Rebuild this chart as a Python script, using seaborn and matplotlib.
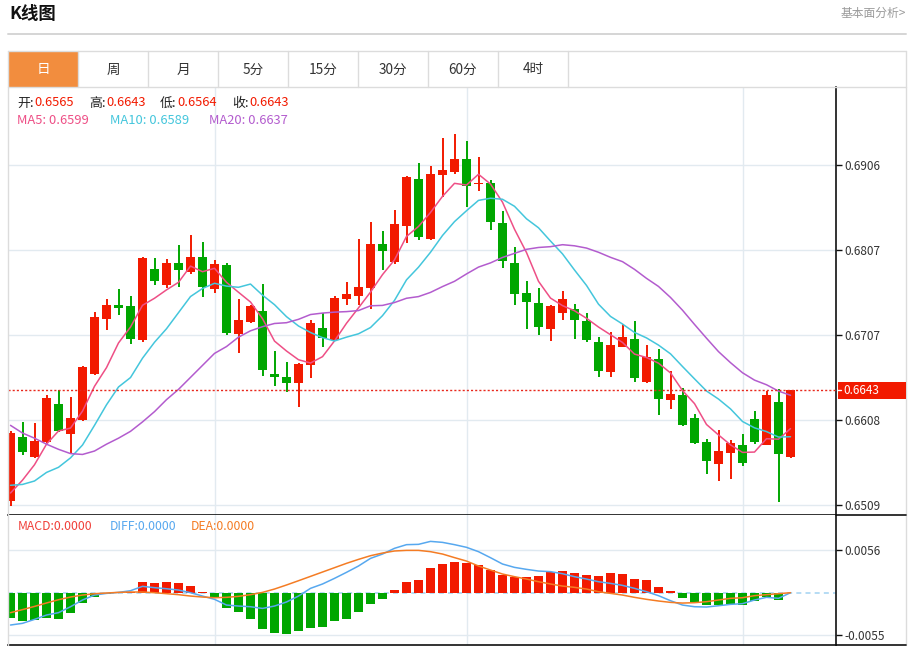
import numpy as np
import pandas as pd
import matplotlib
matplotlib.use("Agg")
import matplotlib.pyplot as plt
from matplotlib.patches import Rectangle
from matplotlib.lines import Line2D
import seaborn as sns

# ---------------- data ----------------
opens = [0.6514, 0.6588, 0.6565, 0.6582, 0.6627, 0.6592, 0.6608, 0.6662, 0.6726, 0.6743,
         0.6741, 0.6702, 0.6785, 0.6766, 0.6792, 0.6781, 0.6798, 0.6761, 0.6789, 0.6709,
         0.6723, 0.6736, 0.6662, 0.6659, 0.6651, 0.6673, 0.6716, 0.6702, 0.6750, 0.6753,
         0.6762, 0.6814, 0.6793, 0.6835, 0.6890, 0.6820, 0.6894, 0.6898, 0.6913, 0.6884,
         0.6885, 0.6838, 0.6792, 0.6756, 0.6745, 0.6715, 0.6733, 0.6738, 0.6724, 0.6699,
         0.6664, 0.6694, 0.6703, 0.6653, 0.6680, 0.6632, 0.6638, 0.6610, 0.6582, 0.6557,
         0.6570, 0.6579, 0.6609, 0.6579, 0.6629, 0.6565]
highs = [0.6595, 0.6606, 0.6605, 0.6638, 0.6643, 0.6635, 0.6671, 0.6734, 0.6750, 0.6761,
         0.6753, 0.6799, 0.6797, 0.6796, 0.6813, 0.6824, 0.6816, 0.6795, 0.6792, 0.6750,
         0.6743, 0.6767, 0.6689, 0.6676, 0.6675, 0.6725, 0.6733, 0.6753, 0.6769, 0.6820,
         0.6839, 0.6829, 0.6853, 0.6893, 0.6908, 0.6905, 0.6937, 0.6942, 0.6934, 0.6915,
         0.6888, 0.6852, 0.6810, 0.6770, 0.6762, 0.6743, 0.6759, 0.6744, 0.6733, 0.6705,
         0.6711, 0.6720, 0.6724, 0.6696, 0.6691, 0.6665, 0.6646, 0.6615, 0.6586, 0.6597,
         0.6585, 0.6592, 0.6619, 0.6642, 0.6645, 0.6643]
lows = [0.6508, 0.6567, 0.6564, 0.6581, 0.6594, 0.6568, 0.6607, 0.6661, 0.6713, 0.6731,
        0.6697, 0.6699, 0.6766, 0.6762, 0.6764, 0.6779, 0.6752, 0.6757, 0.6708, 0.6686,
        0.6722, 0.6660, 0.6648, 0.6641, 0.6623, 0.6657, 0.6693, 0.6701, 0.6742, 0.6743,
        0.6738, 0.6783, 0.6790, 0.6815, 0.6818, 0.6819, 0.6869, 0.6895, 0.6857, 0.6876,
        0.6830, 0.6786, 0.6743, 0.6715, 0.6708, 0.6701, 0.6725, 0.6703, 0.6699, 0.6659,
        0.6659, 0.6694, 0.6653, 0.6651, 0.6614, 0.6621, 0.6601, 0.6580, 0.6545, 0.6537,
        0.6539, 0.6555, 0.6580, 0.6579, 0.6513, 0.6564]
closes = [0.6593, 0.6571, 0.6584, 0.6634, 0.6595, 0.6610, 0.6670, 0.6729, 0.6743, 0.6739,
          0.6703, 0.6797, 0.6770, 0.6792, 0.6783, 0.6798, 0.6764, 0.6790, 0.6710, 0.6725,
          0.6741, 0.6667, 0.6659, 0.6652, 0.6674, 0.6722, 0.6704, 0.6751, 0.6755, 0.6764,
          0.6814, 0.6806, 0.6837, 0.6892, 0.6822, 0.6896, 0.6900, 0.6913, 0.6882, 0.6885,
          0.6839, 0.6794, 0.6755, 0.6746, 0.6717, 0.6741, 0.6750, 0.6725, 0.6702, 0.6666,
          0.6696, 0.6705, 0.6657, 0.6682, 0.6633, 0.6639, 0.6602, 0.6581, 0.6560, 0.6572,
          0.6581, 0.6558, 0.6583, 0.6638, 0.6569, 0.6643]

# moving-average values before the windows fill
ma5_head = [0.6523, 0.6538, 0.6556, 0.6580]
ma10_head = [0.6532, 0.6533, 0.6537, 0.6547, 0.6553, 0.6564, 0.6579, 0.6602, 0.6626]
ma20_head = [0.6602, 0.6593, 0.6587, 0.6580, 0.6574, 0.6569, 0.6568, 0.6572, 0.6580, 0.6587,
             0.6595, 0.6606, 0.6618, 0.6632, 0.6644, 0.6658, 0.6672, 0.6686, 0.6694]

macd = [-0.00337, -0.00372, -0.00359, -0.00328, -0.00345, -0.00262, -0.00140, -0.00052, -0.00022, -0.00009,
        0.00013, 0.00140, 0.00127, 0.00144, 0.00122, 0.00087, 0.00009, -0.00061, -0.00201, -0.00249,
        -0.00341, -0.00481, -0.00529, -0.00542, -0.00507, -0.00459, -0.00455, -0.00376, -0.00341, -0.00258,
        -0.00153, -0.00079, 0.00035, 0.00140, 0.00166, 0.00319, 0.00376, 0.00407, 0.00385, 0.00363,
        0.00297, 0.00236, 0.00201, 0.00201, 0.00223, 0.00276, 0.00284, 0.00258, 0.00232, 0.00223,
        0.00262, 0.00249, 0.00184, 0.00162, 0.00074, 0.00026, -0.00070, -0.00122, -0.00162, -0.00162,
        -0.00153, -0.00162, -0.00105, -0.00061, -0.00096, 0.0]
diff = [-0.00424, -0.00402, -0.00350, -0.00293, -0.00262, -0.00184, -0.00096, -0.00031, -0.00009, 0.00004,
        0.00026, 0.00083, 0.00066, 0.00052, 0.00035, 0.0, -0.00044, -0.00087, -0.00162, -0.00175,
        -0.00184, -0.00206, -0.00175, -0.00122, -0.00044, 0.00057, 0.00114, 0.00188, 0.00267, 0.00350,
        0.00450, 0.00507, 0.00582, 0.00630, 0.00634, 0.00673, 0.00660, 0.00630, 0.00595, 0.00538,
        0.00459, 0.00376, 0.00332, 0.00306, 0.00284, 0.00276, 0.00249, 0.00210, 0.00179, 0.00144,
        0.00122, 0.00096, 0.00057, 0.00013, -0.00039, -0.00105, -0.00162, -0.00184, -0.00188, -0.00171,
        -0.00153, -0.00144, -0.00096, -0.00061, -0.00074, 0.0]
dea = [-0.00262, -0.00222, -0.00180, -0.00135, -0.00092, -0.00057, -0.00031, -0.00013, -0.00004, 0.00004,
       0.00009, 0.00009, 0.00000, -0.00013, -0.00026, -0.00044, -0.00057, -0.00066, -0.00061, -0.00048,
       -0.00026, 0.00004, 0.00048, 0.00101, 0.00157, 0.00214, 0.00271, 0.00328, 0.00385, 0.00437,
       0.00485, 0.00520, 0.00547, 0.00555, 0.00555, 0.00538, 0.00507, 0.00460, 0.00415, 0.00350,
       0.00297, 0.00245, 0.00210, 0.00179, 0.00144, 0.00114, 0.00087, 0.00070, 0.00048, 0.00013,
       -0.00009, -0.00031, -0.00061, -0.00087, -0.00109, -0.00127, -0.00136, -0.00131, -0.00118, -0.00096,
       -0.00074, -0.00066, -0.00039, -0.00026, -0.00013, 0.0]

price_ticks = [0.6906, 0.6807, 0.6707, 0.6608, 0.6509]
macd_ticks = [0.0056, -0.0055]
last_price = 0.6643
tabs = ["日", "周", "月", "5分", "15分", "30分", "60分", "4时"]
info_labels = ["开:", "高:", "低:", "收:"]
info_values = ["0.6565", "0.6643", "0.6564", "0.6643"]
ma_labels = ["MA5: 0.6599", "MA10: 0.6589", "MA20: 0.6637"]
macd_labels = ["MACD:0.0000", "DIFF:0.0000", "DEA:0.0000"]

# ---------------- styling ----------------
sns.set_theme(style="white")
plt.rcParams['font.family'] = ['Noto Sans CJK SC', 'DejaVu Sans']
plt.rcParams['axes.unicode_minus'] = False

RED = '#f21a00'
GREEN = '#00a600'
C_MA5 = '#ee4f86'
C_MA10 = '#44c6dc'
C_MA20 = '#b35cce'
C_DIFF = '#57a8ef'
C_DEA = '#f47c24'
GRID = '#e2eaf0'
BORDER = '#dcdcdc'

W, H = 914, 647
fig = plt.figure(figsize=(W / 100, H / 100), dpi=100)
fig.patch.set_facecolor('white')


def fx(x):
    return x / W


def fy(y):
    return 1 - y / H


def hline(x0, x1, y, color, lw=1.0):
    fig.add_artist(Line2D([fx(x0), fx(x1)], [fy(y), fy(y)], color=color, lw=lw))


def vline(x, y0, y1, color, lw=1.0):
    fig.add_artist(Line2D([fx(x), fx(x)], [fy(y0), fy(y1)], color=color, lw=lw))


# header
fig.text(fx(9), fy(14), "K线图", fontsize=12.5, fontweight='bold', color='#111111', va='center', ha='left')
fig.text(fx(906), fy(13), "基本面分析>", fontsize=8.5, color='#9a9a9a', va='center', ha='right')
hline(8, 906, 34, '#d5d5d5', lw=1.4)

# tabs
tab_top, tab_bot = 51, 87
fig.add_artist(Rectangle((fx(8), fy(tab_bot)), fx(78) - fx(8), fy(tab_top) - fy(tab_bot),
                         facecolor='#f28d3e', edgecolor='none'))
hline(8, 906, tab_top, BORDER)
for k, t in enumerate(tabs):
    xr = 78 + 70 * k
    vline(xr, tab_top, tab_bot, BORDER)
    fig.text(fx(43 + 70 * k), fy(69.5), t, fontsize=9.8, ha='center', va='center',
             color='white' if k == 0 else '#333333')
hline(8, 906, tab_bot, BORDER)
vline(8, tab_top, 645, BORDER)
vline(906, tab_top, 645, BORDER)

# axes
idx = np.arange(len(closes))
XL = (-2.5 / 12, 825.5 / 12)
ax = fig.add_axes([fx(8), fy(515), fx(836) - fx(8), fy(87) - fy(515)])
axm = fig.add_axes([fx(8), fy(645), fx(836) - fx(8), fy(515) - fy(645)])

for a in (ax, axm):
    a.set_facecolor('white')
    a.set_xlim(*XL)
    a.set_xticks([])
    for sp in ('left', 'top'):
        a.spines[sp].set_visible(False)
    a.spines['right'].set_color('#111111')
    a.spines['right'].set_linewidth(1.2)
    a.spines['bottom'].set_color('#111111')
    a.spines['bottom'].set_linewidth(1.2)
    for xv in (17, 38, 61):
        a.axvline(xv, color=GRID, lw=1.0, zorder=0)
    a.yaxis.tick_right()
    a.tick_params(axis='y', direction='out', length=4, width=1, color='#111111',
                  labelsize=8.5, labelcolor='#333333', pad=2, right=True, left=False)

# price panel
ax.set_ylim(0.64973, 0.69971)
ax.set_yticks(price_ticks)
ax.set_yticklabels([f"{v:.4f}" for v in price_ticks])
for v in price_ticks:
    ax.axhline(v, color=GRID, lw=1.0, zorder=0)

o = np.array(opens); h = np.array(highs); l = np.array(lows); c = np.array(closes)
up = c >= o
cols = np.where(up, RED, GREEN)
ax.vlines(idx, l, h, colors=cols, lw=1.4, zorder=2)
body_low = np.minimum(o, c)
body_h = np.maximum(np.abs(c - o), 0.00012)
ax.bar(idx, body_h, bottom=body_low, width=0.75, color=cols, edgecolor='none', zorder=3)

cs = pd.Series(closes)
ma5 = cs.rolling(5).mean().to_numpy(); ma5[:4] = ma5_head
ma10 = cs.rolling(10).mean().to_numpy(); ma10[:9] = ma10_head
ma20 = cs.rolling(20).mean().to_numpy(); ma20[:19] = ma20_head
sns.lineplot(x=idx, y=ma5, ax=ax, color=C_MA5, lw=1.1, zorder=4)
sns.lineplot(x=idx, y=ma10, ax=ax, color=C_MA10, lw=1.1, zorder=4)
sns.lineplot(x=idx, y=ma20, ax=ax, color=C_MA20, lw=1.1, zorder=4)
ax.set_ylabel(''); ax.set_xlabel('')

ax.axhline(last_price, color='#e8281c', lw=1.0, ls=(0, (1.5, 1.5)), zorder=5)

# price tag
tag_y = 165 + (0.6906 - last_price) / (0.0397 / 340)
fig.add_artist(Rectangle((fx(838), fy(tag_y + 8.5)), fx(906) - fx(838), fy(tag_y - 8.5) - fy(tag_y + 8.5),
                         facecolor=RED, edgecolor='none', zorder=10))
fig.add_artist(Line2D([fx(837), fx(841)], [fy(tag_y), fy(tag_y)], color='white', lw=1, zorder=11))
fig.text(fx(843), fy(tag_y), f"{last_price:.4f}", color='white', fontsize=8.5, va='center', ha='left', zorder=12)

# info texts
info_x_lab = [17, 89, 160, 232]
for xl, lab, val in zip(info_x_lab, info_labels, info_values):
    fig.text(fx(xl), fy(103), lab, fontsize=9.3, color='#222222', va='center', ha='left')
    fig.text(fx(xl + 17.5), fy(103), val, fontsize=9.3, color=RED, va='center', ha='left')
for xv, txt, col in zip([17, 110, 209], ma_labels, [C_MA5, C_MA10, C_MA20]):
    fig.text(fx(xv), fy(121), txt, fontsize=9.3, color=col, va='center', ha='left')

# MACD panel
axm.set_ylim(-0.00686, 0.01019)
axm.set_yticks(macd_ticks)
axm.set_yticklabels([f"{v:.4f}" for v in macd_ticks])
for v in macd_ticks:
    axm.axhline(v, color=GRID, lw=1.0, zorder=0)
axm.axhline(0, color='#a9d6f2', lw=1.2, ls=(0, (3, 2.5)), zorder=1)
mv = np.array(macd)
axm.bar(idx, mv, width=0.75, color=np.where(mv >= 0, RED, GREEN), edgecolor='none', zorder=2)
sns.lineplot(x=idx, y=diff, ax=axm, color=C_DIFF, lw=1.1, zorder=3)
sns.lineplot(x=idx, y=dea, ax=axm, color=C_DEA, lw=1.1, zorder=3)
axm.set_ylabel(''); axm.set_xlabel('')
hline(836, 906, 515, '#111111', lw=1.2)
hline(836, 906, 645, '#111111', lw=1.2)

for xv, txt, col in zip([18, 110, 191], macd_labels, ['#f0403a', C_DIFF, C_DEA]):
    fig.text(fx(xv), fy(526.5), txt, fontsize=8.8, color=col, va='center', ha='left')

fig.savefig("out.png", dpi=100, facecolor='white')
